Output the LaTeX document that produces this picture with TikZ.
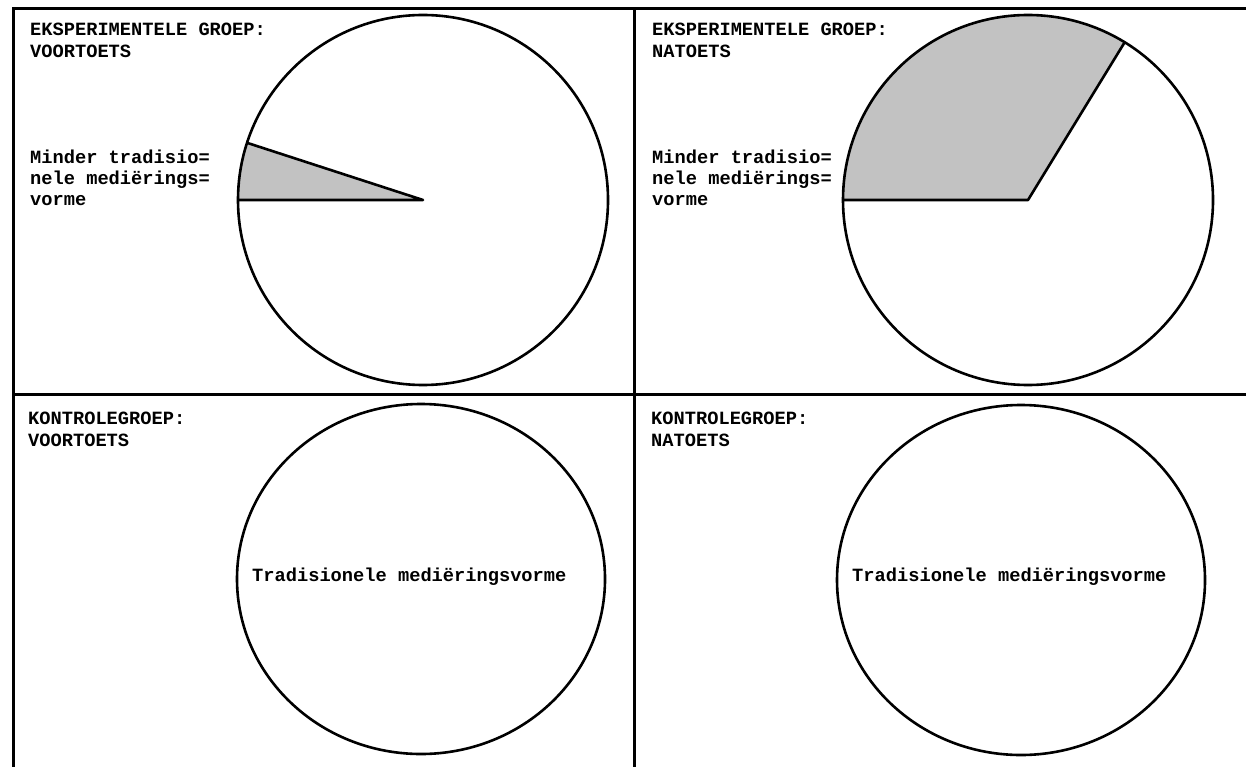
\documentclass[tikz,border=0pt]{standalone}
\usepackage{fontspec}
\newfontfamily\typefont{Liberation Mono}
\begin{document}
\begin{tikzpicture}[x=1pt,y=-1pt,
  frame/.style={line width=3pt,line cap=rect},
  pie/.style={line width=2.6pt},
  slice/.style={line width=2.6pt,line join=round},
  shade/.style={fill=black!24},
  lbl/.style={inner sep=0pt,anchor=base west,font=\typefont\bfseries\fontsize{18.7}{21}\selectfont}]
\useasboundingbox (0,0) rectangle (1246,767);
\fill[white] (0,0) rectangle (1246,767);

% panel frame
\draw[frame] (13,767) -- (13,9) -- (1246,9);
\draw[frame] (634,9) -- (634,767);
\draw[frame] (13,394) -- (1246,394);

% experimental group, pre-test (y axis points down, so angles run clockwise)
\fill[shade] (423,200) -- ++(198:185) arc[start angle=198,end angle=180,radius=185] -- cycle;
\draw[pie] (423,200) circle[radius=185];
\draw[slice] (238,200) -- (423,200) -- ++(198:185);

% experimental group, post-test
\fill[shade] (1028,200) -- ++(301.5:185) arc[start angle=301.5,end angle=180,radius=185] -- cycle;
\draw[pie] (1028,200) circle[radius=185];
\draw[slice] (843,200) -- (1028,200) -- ++(301.5:185);

% control group
\draw[pie] (421,579) ellipse[x radius=184,y radius=175];
\draw[pie] (1021,580) ellipse[x radius=184,y radius=175];

% labels, top left
\node[lbl] (tl1) at (30,36) {EKSPERIMENTELE GROEP:};
\node[lbl] (tl2) at (30,58) {VOORTOETS};
\node[lbl] (tl3) at (30,164) {Minder tradisio=};
\node[lbl] (tl4) at (30,185) {nele mediërings=};
\node[lbl] (tl5) at (30,206) {vorme};

% labels, top right
\node[lbl] (tr1) at (652,36) {EKSPERIMENTELE GROEP:};
\node[lbl] (tr2) at (652,58) {NATOETS};
\node[lbl] (tr3) at (652,164) {Minder tradisio=};
\node[lbl] (tr4) at (652,185) {nele mediërings=};
\node[lbl] (tr5) at (652,206) {vorme};

% labels, bottom left
\node[lbl] (bl1) at (28,424) {KONTROLEGROEP:};
\node[lbl] (bl2) at (28,446) {VOORTOETS};
\node[lbl] (bl3) at (252,581) {Tradisionele mediëringsvorme};

% labels, bottom right
\node[lbl] (br1) at (651,424) {KONTROLEGROEP:};
\node[lbl] (br2) at (651,446) {NATOETS};
\node[lbl] (br3) at (852,581) {Tradisionele mediëringsvorme};
\end{tikzpicture}
\end{document}
